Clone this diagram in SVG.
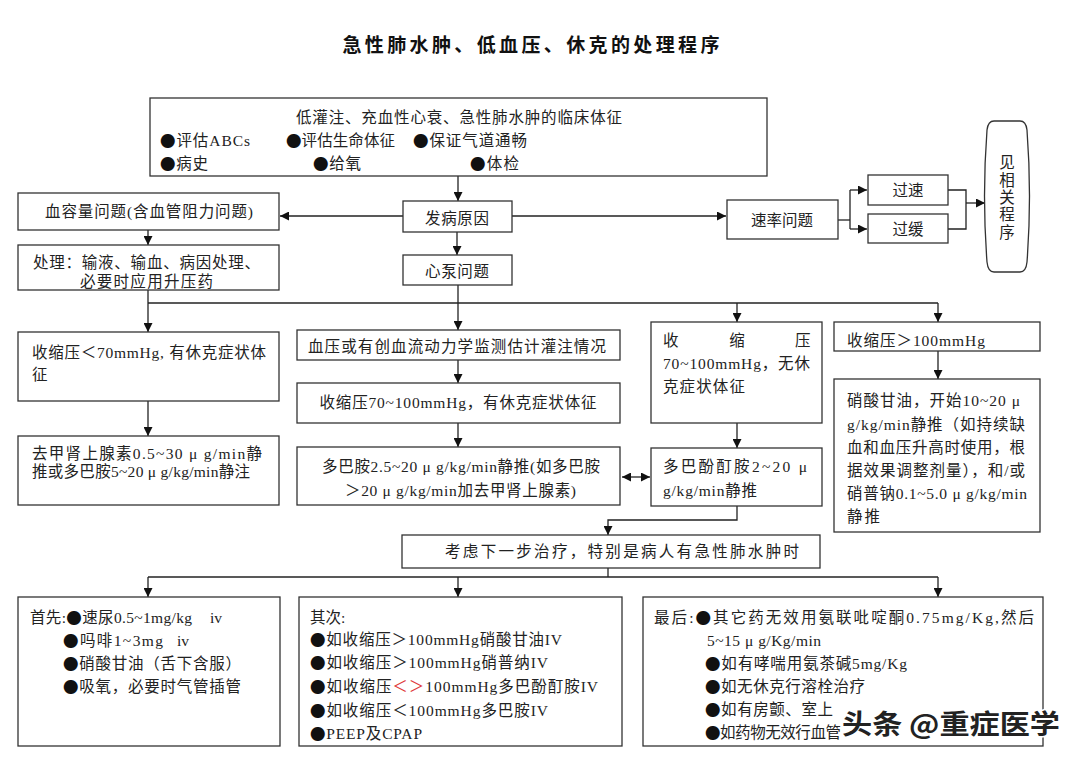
<svg xmlns="http://www.w3.org/2000/svg" width="1080" height="763" viewBox="0 0 1080 763">
<defs>
<marker id="ah" viewBox="0 0 10 10" refX="10" refY="5" markerWidth="9" markerHeight="9" markerUnits="userSpaceOnUse" orient="auto-start-reverse">
<path d="M0,0 L10,5 L0,10 Z" fill="#111"/>
</marker>
<style>
.box{fill:#fff;stroke:#333;stroke-width:1.3}
.t{font-family:"Liberation Serif","Noto Sans CJK SC",serif;font-size:15.5px;fill:#222;dominant-baseline:central}
.b{font-family:"Noto Sans CJK SC",sans-serif;font-size:15.5px;fill:#111}
.c{text-anchor:middle}
.ln{fill:none;stroke:#222;stroke-width:1.3}
.ar{fill:none;stroke:#222;stroke-width:1.3;marker-end:url(#ah)}
.title{font-family:"Liberation Serif","Noto Sans CJK SC",serif;font-size:19px;font-weight:bold;fill:#111;text-anchor:middle;dominant-baseline:central}
.red{fill:#e0383a}
.wm{font-family:"Noto Sans CJK SC","Liberation Sans",sans-serif;font-size:27px;font-weight:bold;fill:#222;stroke:#fff;stroke-width:3;paint-order:stroke;dominant-baseline:central}
</style>
</defs>
<rect width="1080" height="763" fill="#fff"/>
<text class="title" x="531" y="45" textLength="377" lengthAdjust="spacing">急性肺水肿、低血压、休克的处理程序</text>

<g id="connectors">
<line class="ar" x1="458" y1="176" x2="458" y2="201"/>
<line class="ar" x1="403" y1="216" x2="280" y2="216"/>
<line class="ar" x1="148" y1="230" x2="148" y2="245"/>
<line class="ar" x1="457" y1="232" x2="457" y2="255"/>
<line class="ar" x1="512" y1="216" x2="726" y2="216"/>
<polyline class="ln" points="838,220 850,220"/>
<line class="ln" x1="850" y1="190" x2="850" y2="229"/>
<line class="ar" x1="850" y1="190" x2="867" y2="190"/>
<line class="ar" x1="850" y1="229" x2="867" y2="229"/>
<polyline class="ln" points="948,190 966,190 966,229 948,229"/>
<line class="ar" x1="966" y1="203" x2="985" y2="203"/>
<line class="ar" x1="148" y1="290" x2="148" y2="332"/>
<line class="ln" x1="148" y1="303" x2="938" y2="303"/>
<line class="ar" x1="458" y1="285" x2="458" y2="330"/>
<line class="ar" x1="737" y1="303" x2="737" y2="322"/>
<line class="ar" x1="938" y1="303" x2="938" y2="322"/>
<line class="ar" x1="148" y1="401" x2="148" y2="436"/>
<line class="ar" x1="458" y1="360" x2="458" y2="383"/>
<line class="ar" x1="458" y1="423" x2="458" y2="447"/>
<line class="ar" x1="737" y1="423" x2="737" y2="448"/>
<line class="ar" x1="938" y1="351" x2="938" y2="379"/>
<line class="ar" x1="622" y1="477" x2="650" y2="477" style="marker-start:url(#ah)"/>
<polyline class="ar" points="737,506 737,520 608,520 608,535"/>
<line class="ln" x1="608" y1="568" x2="608" y2="577"/>
<line class="ln" x1="148" y1="577" x2="938" y2="577"/>
<line class="ar" x1="148" y1="577" x2="148" y2="597"/>
<line class="ar" x1="458" y1="577" x2="458" y2="597"/>
<line class="ar" x1="938" y1="577" x2="938" y2="597"/>
</g>

<g id="clinical">
<rect class="box" x="150" y="98" width="617" height="78"/>
<text class="t c" x="459" y="117" textLength="326" lengthAdjust="spacing">低灌注、充血性心衰、急性肺水肿的临床体征</text>
<text class="t" x="160" y="140" textLength="90" lengthAdjust="spacing"><tspan class="b">●</tspan>评估ABCs</text>
<text class="t" x="286" y="140" textLength="109" lengthAdjust="spacing"><tspan class="b">●</tspan>评估生命体征</text>
<text class="t" x="413" y="140" textLength="114" lengthAdjust="spacing"><tspan class="b">●</tspan>保证气道通畅</text>
<text class="t" x="160" y="163" textLength="48" lengthAdjust="spacing"><tspan class="b">●</tspan>病史</text>
<text class="t" x="313" y="163" textLength="48" lengthAdjust="spacing"><tspan class="b">●</tspan>给氧</text>
<text class="t" x="470" y="163" textLength="49" lengthAdjust="spacing"><tspan class="b">●</tspan>体检</text>
</g>

<g id="cause">
<rect class="box" x="403" y="201" width="109" height="31"/>
<text class="t c" x="457" y="218" textLength="64" lengthAdjust="spacing">发病原因</text>
</g>

<g id="volume">
<rect class="box" x="18" y="193" width="261" height="37"/>
<text class="t c" x="149" y="211" textLength="208" lengthAdjust="spacing">血容量问题(含血管阻力问题)</text>
</g>

<g id="volume-treat">
<rect class="box" x="18" y="245" width="261" height="45"/>
<text class="t" x="33" y="262" textLength="227" lengthAdjust="spacing">处理：输液、输血、病因处理、</text>
<text class="t" x="80" y="281" textLength="133" lengthAdjust="spacing">必要时应用升压药</text>
</g>

<g id="pump">
<rect class="box" x="403" y="255" width="109" height="30"/>
<text class="t c" x="457" y="271" textLength="64" lengthAdjust="spacing">心泵问题</text>
</g>

<g id="rate">
<rect class="box" x="727" y="200" width="111" height="39"/>
<text class="t c" x="782" y="220" textLength="62" lengthAdjust="spacing">速率问题</text>
</g>

<g id="fast">
<rect class="box" x="868" y="175" width="80" height="30"/>
<text class="t c" x="908" y="190" textLength="31" lengthAdjust="spacing">过速</text>
</g>

<g id="slow">
<rect class="box" x="868" y="214" width="80" height="29"/>
<text class="t c" x="908" y="229" textLength="31" lengthAdjust="spacing">过缓</text>
</g>

<g id="see-related">
<path class="box" d="M994,121 L1020,121 Q1026,121 1027,130 Q1032,196 1027,262 Q1026,272 1020,272 L994,272 Q988,272 987,262 Q982,196 987,130 Q988,121 994,121 Z"/>
<text class="t c" x="1007" y="162">见</text>
<text class="t c" x="1007" y="180">相</text>
<text class="t c" x="1007" y="197">关</text>
<text class="t c" x="1007" y="214">程</text>
<text class="t c" x="1007" y="232">序</text>
</g>

<g id="sbp-lt70">
<rect class="box" x="18" y="332" width="261" height="69"/>
<text class="t" x="32" y="352" textLength="234" lengthAdjust="spacing">收缩压＜70mmHg, 有休克症状体</text>
<text class="t" x="32" y="374">征</text>
</g>

<g id="norepi">
<rect class="box" x="18" y="436" width="261" height="69"/>
<text class="t" x="32" y="453" textLength="230" lengthAdjust="spacing">去甲肾上腺素0.5~30 μ g/min静</text>
<text class="t" x="32" y="471" textLength="218" lengthAdjust="spacing">推或多巴胺5~20 μ g/kg/min静注</text>
</g>

<g id="monitor">
<rect class="box" x="297" y="330" width="323" height="30"/>
<text class="t c" x="457" y="346" textLength="298" lengthAdjust="spacing">血压或有创血流动力学监测估计灌注情况</text>
</g>

<g id="sbp-70-100-shock">
<rect class="box" x="297" y="383" width="323" height="40"/>
<text class="t c" x="458" y="402" textLength="277" lengthAdjust="spacing">收缩压70~100mmHg，有休克症状体征</text>
</g>

<g id="dopamine">
<rect class="box" x="297" y="447" width="323" height="58"/>
<text class="t" x="322" y="466" textLength="278" lengthAdjust="spacing">多巴胺2.5~20 μ g/kg/min静推(如多巴胺</text>
<text class="t" x="345" y="490" textLength="231" lengthAdjust="spacing">＞20 μ g/kg/min加去甲肾上腺素)</text>
</g>

<g id="sbp-70-100-noshock">
<rect class="box" x="651" y="322" width="171" height="101"/>
<text class="t" x="663" y="340">收</text>
<text class="t c" x="737" y="340">缩</text>
<text class="t" x="795" y="340">压</text>
<text class="t" x="663" y="363" textLength="147" lengthAdjust="spacing">70~100mmHg，无休</text>
<text class="t" x="663" y="386" textLength="82" lengthAdjust="spacing">克症状体征</text>
</g>

<g id="dobutamine">
<rect class="box" x="651" y="448" width="171" height="58"/>
<text class="t" x="663" y="466" textLength="144" lengthAdjust="spacing">多巴酚酊胺2~20 μ</text>
<text class="t" x="663" y="490" textLength="94" lengthAdjust="spacing">g/kg/min静推</text>
</g>

<g id="sbp-gt100">
<rect class="box" x="834" y="322" width="206" height="29"/>
<text class="t" x="847" y="340" textLength="138" lengthAdjust="spacing">收缩压＞100mmHg</text>
</g>

<g id="nitro">
<rect class="box" x="834" y="379" width="206" height="153"/>
<text class="t" x="847" y="400" textLength="173" lengthAdjust="spacing">硝酸甘油，开始10~20 μ</text>
<text class="t" x="847" y="424" textLength="178" lengthAdjust="spacing">g/kg/min静推（如持续缺</text>
<text class="t" x="847" y="447" textLength="178" lengthAdjust="spacing">血和血压升高时使用，根</text>
<text class="t" x="847" y="470" textLength="178" lengthAdjust="spacing">据效果调整剂量），和/或</text>
<text class="t" x="847" y="493" textLength="180" lengthAdjust="spacing">硝普钠0.1~5.0 μ g/kg/min</text>
<text class="t" x="847" y="516" textLength="33" lengthAdjust="spacing">静推</text>
</g>

<g id="next-step">
<rect class="box" x="402" y="535" width="418" height="33"/>
<text class="t c" x="622" y="551" textLength="354" lengthAdjust="spacing">考虑下一步治疗，特别是病人有急性肺水肿时</text>
</g>

<g id="first">
<rect class="box" x="18" y="597" width="262" height="149"/>
<text class="t" x="30" y="617" textLength="162" lengthAdjust="spacing">首先:<tspan class="b">●</tspan>速尿0.5~1mg/kg</text>
<text class="t" x="210" y="617">iv</text>
<text class="t" x="63" y="640" textLength="100" lengthAdjust="spacing"><tspan class="b">●</tspan>吗啡1~3mg</text>
<text class="t" x="177" y="640">iv</text>
<text class="t" x="63" y="663" textLength="178" lengthAdjust="spacing"><tspan class="b">●</tspan>硝酸甘油（舌下含服）</text>
<text class="t" x="63" y="686" textLength="178" lengthAdjust="spacing"><tspan class="b">●</tspan>吸氧，必要时气管插管</text>
</g>

<g id="second">
<rect class="box" x="299" y="597" width="323" height="149"/>
<text class="t" x="310" y="617">其次:</text>
<text class="t" x="310" y="639" textLength="252" lengthAdjust="spacing"><tspan class="b">●</tspan>如收缩压＞100mmHg硝酸甘油IV</text>
<text class="t" x="310" y="662" textLength="238" lengthAdjust="spacing"><tspan class="b">●</tspan>如收缩压＞100mmHg硝普纳IV</text>
<text class="t" x="310" y="686" textLength="288" lengthAdjust="spacing"><tspan class="b">●</tspan>如收缩压<tspan class="red">＜＞</tspan>100mmHg多巴酚酊胺IV</text>
<text class="t" x="310" y="710" textLength="238" lengthAdjust="spacing"><tspan class="b">●</tspan>如收缩压＜100mmHg多巴胺IV</text>
<text class="t" x="310" y="733" textLength="112" lengthAdjust="spacing"><tspan class="b">●</tspan>PEEP及CPAP</text>
</g>

<g id="last">
<rect class="box" x="643" y="597" width="400" height="149"/>
<text class="t" x="654" y="617" textLength="380" lengthAdjust="spacing">最后:<tspan class="b">●</tspan>其它药无效用氨联吡啶酮0.75mg/Kg,然后</text>
<text class="t" x="707" y="640" textLength="114" lengthAdjust="spacing">5~15 μ g/Kg/min</text>
<text class="t" x="705" y="663" textLength="202" lengthAdjust="spacing"><tspan class="b">●</tspan>如有哮喘用氨茶碱5mg/Kg</text>
<text class="t" x="705" y="686" textLength="160" lengthAdjust="spacing"><tspan class="b">●</tspan>如无休克行溶栓治疗</text>
<text class="t" x="705" y="709" textLength="128" lengthAdjust="spacing"><tspan class="b">●</tspan>如有房颤、室上</text>
<text class="t" x="705" y="732" textLength="136" lengthAdjust="spacing"><tspan class="b">●</tspan>如药物无效行血管</text>
</g>

<text class="wm" x="842" y="722" textLength="218" lengthAdjust="spacingAndGlyphs">头条 @重症医学</text>
</svg>
